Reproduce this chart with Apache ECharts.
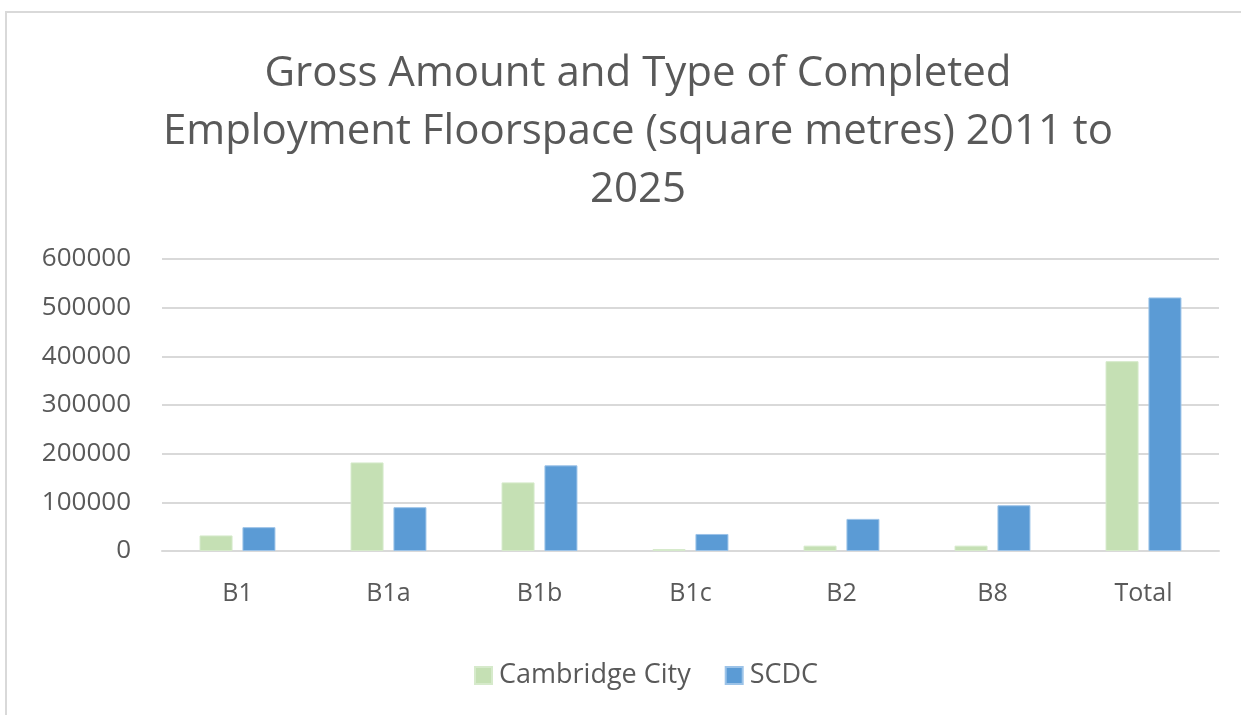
<!DOCTYPE html>
<html>
<head>
<meta charset="utf-8">
<script src="https://cdn.jsdelivr.net/npm/echarts@6/dist/echarts.min.js"></script>
<style>
  html, body { margin: 0; padding: 0; background: #fff; }
  #frame { position: absolute; left: 5px; top: 11px; width: 1236px; height: 704px; border: 2px solid #d9d9d9; border-right: none; border-bottom: none; box-sizing: border-box; }
  #chart { position: absolute; left: 0; top: 0; width: 1247px; height: 717px; }
</style>
</head>
<body>
<div id="frame"></div>
<div id="chart"></div>
<script type="text/javascript">
  var categories = ['B1', 'B1a', 'B1b', 'B1c', 'B2', 'B8', 'Total'];
  var cambridgeCity = [32000, 182000, 141000, 4000, 11000, 11000, 390000];
  var scdc = [49000, 90000, 176000, 35000, 66000, 94000, 521000];
  var yTicks = [0, 100000, 200000, 300000, 400000, 500000, 600000];

  var font = '"Open Sans", "Noto Sans", sans-serif';
  var myChart = echarts.init(document.getElementById('chart'));
  var option = {
    animation: false,
    title: {
      text: 'Gross Amount and Type of Completed\nEmployment Floorspace (square metres) 2011 to\n2025',
      left: 633, textAlign: 'center', top: 40,
      textStyle: { fontFamily: font, fontSize: 42, fontWeight: 'normal', color: '#595959', lineHeight: 58 }
    },
    legend: {
      top: 657, left: 469,
      itemWidth: 17, itemHeight: 17, itemGap: 34,
      icon: 'rect',
      textStyle: { fontFamily: font, fontSize: 27, color: '#595959', padding: [0, 0, 0, 2] },
      data: ['Cambridge City', 'SCDC']
    },
    grid: { left: 162, right: 28, top: 259, bottom: 166 },
    xAxis: {
      type: 'category', data: categories,
      axisLine: { lineStyle: { color: '#d9d9d9', width: 2 } },
      axisTick: { show: false },
      axisLabel: { fontFamily: font, fontSize: 25, color: '#595959', margin: 30 }
    },
    yAxis: {
      type: 'value', min: yTicks[0], max: yTicks[yTicks.length - 1], interval: 100000,
      axisLine: { show: false }, axisTick: { show: false },
      splitLine: { lineStyle: { color: '#d9d9d9', width: 2 } },
      axisLabel: { fontFamily: font, fontSize: 26, color: '#595959', margin: 31,
        formatter: function (v) { return String(v); } }
    },
    series: [
      { name: 'Cambridge City', type: 'bar', data: cambridgeCity, barWidth: 33, barGap: '30%',
        itemStyle: { color: '#c5e0b4', borderColor: '#d6eacb', borderWidth: 1 } },
      { name: 'SCDC', type: 'bar', data: scdc, barWidth: 33, barGap: '30%',
        itemStyle: { color: '#5b9bd5', borderColor: '#9cc3e8', borderWidth: 1 } }
    ]
  };
  myChart.setOption(option);
</script>
</body>
</html>
